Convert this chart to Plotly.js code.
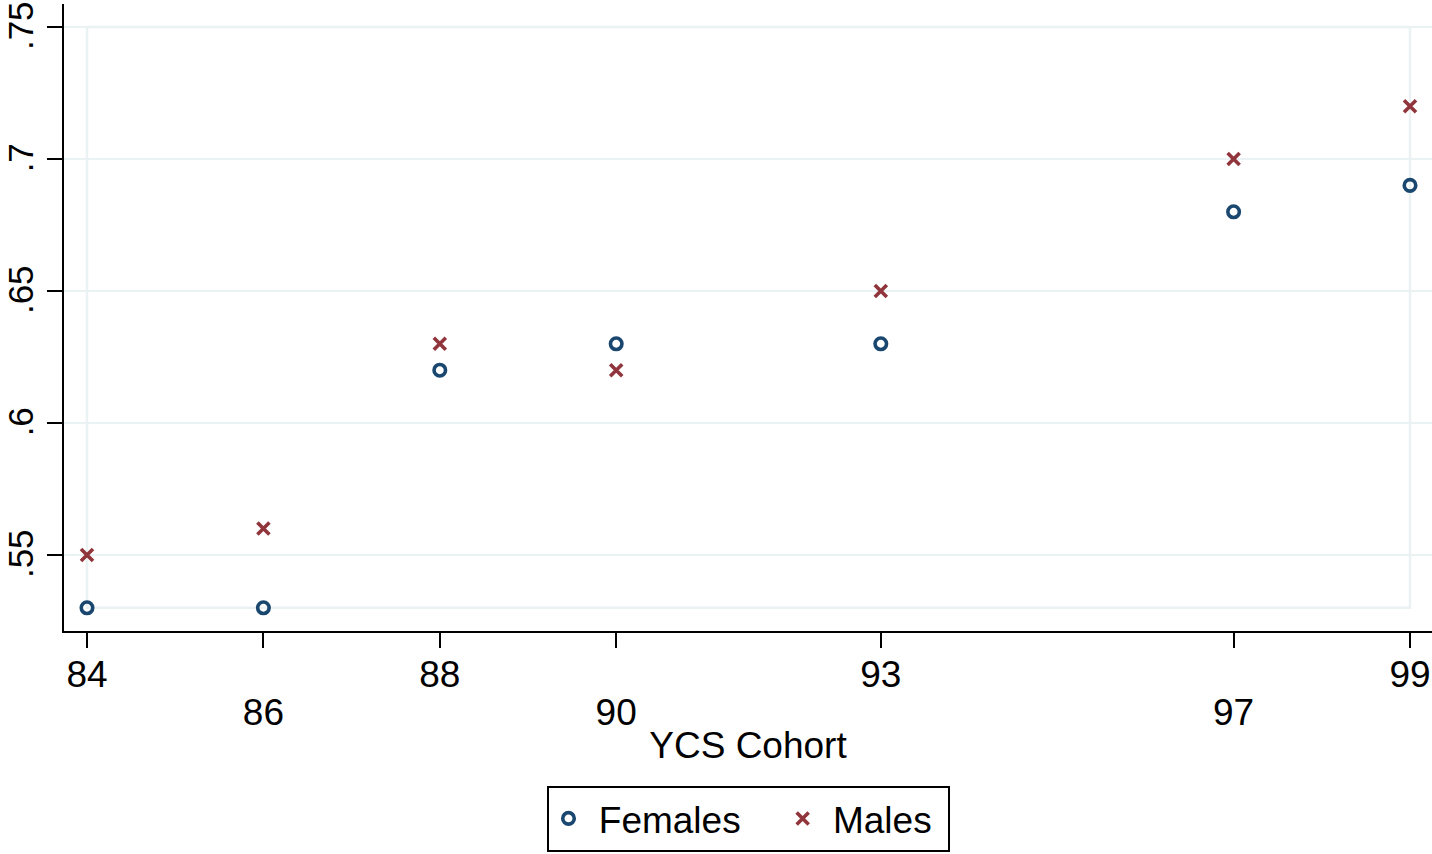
<!DOCTYPE html>
<html>
<head>
<meta charset="utf-8">
<script src="https://cdn.plot.ly/plotly-3.0.1.min.js"></script>
<style>html,body{margin:0;padding:0;background:#fff;}#chart{width:1432px;height:854px;}</style>
</head>
<body>
<div id="chart"></div>
<script>
const cohorts = [84, 86, 88, 90, 93, 97, 99];
const females = [0.53, 0.53, 0.62, 0.63, 0.63, 0.68, 0.69];
const males = [0.55, 0.56, 0.63, 0.62, 0.65, 0.70, 0.72];
const yTickVals = [0.55, 0.6, 0.65, 0.7, 0.75];
const yTickText = ['.55', '.6', '.65', '.7', '.75'];
const xRow1 = ['84', '88', '93', '99'];
const xRow2 = ['86', '90', '97'];
const seriesNames = ['Females', 'Males'];

const FONT = 'Liberation Sans, Arial, sans-serif';
const FS = 37;
const blue = '#1a476f';
const red = '#90353b';
const grid = '#eaf2f3';
const NB = '\u00a0';

const xr = [83.7392, 99.2494];
const yr = [0.52121, 0.75871];

const traces = [
  {x: cohorts, y: females, type: 'scatter', mode: 'markers',
   name: NB + seriesNames[0] + NB.repeat(3) + '\u2006',
   marker: {symbol: 'circle-open', size: 11.5, color: blue, line: {width: 3.6, color: blue}}},
  {x: cohorts, y: males, type: 'scatter', mode: 'markers',
   name: NB + seriesNames[1] + NB,
   marker: {symbol: 'x-thin-open', size: 12, color: red, line: {width: 3.6, color: red}}},
  {x: [cohorts[0]], y: [females[0]], xaxis: 'x2', type: 'scatter', mode: 'markers',
   showlegend: false, hoverinfo: 'skip', marker: {opacity: 0}}
];

const row2Vals = cohorts.filter(c => xRow2.includes(String(c)));

const layout = {
  width: 1432, height: 854,
  margin: {l: 64, r: 0, t: 4, b: 223},
  paper_bgcolor: '#fff', plot_bgcolor: '#fff',
  font: {family: FONT, size: FS, color: '#000'},
  showlegend: true,
  xaxis: {
    range: xr, tickmode: 'array', tickvals: cohorts,
    ticktext: cohorts.map(c => xRow1.includes(String(c)) ? String(c) : ''),
    ticks: 'outside', ticklen: 15, tickwidth: 2, tickcolor: '#000',
    showline: true, linewidth: 2, linecolor: '#000',
    showgrid: false, zeroline: false,
    tickfont: {size: FS}, ticklabelstandoff: -5,
    title: {text: 'YCS Cohort', font: {size: FS}, standoff: 38}
  },
  xaxis2: {
    range: xr, overlaying: 'x', anchor: 'y', side: 'bottom',
    tickmode: 'array', tickvals: row2Vals, ticktext: row2Vals.map(String),
    ticks: '', showline: false, showgrid: false, zeroline: false,
    tickfont: {size: FS}, ticklabelstandoff: 56
  },
  yaxis: {
    range: yr, tickmode: 'array', tickvals: yTickVals, ticktext: yTickText,
    ticks: 'outside', ticklen: 15, tickwidth: 2, tickcolor: '#000',
    showline: true, linewidth: 2, linecolor: '#000',
    showgrid: true, gridcolor: grid, gridwidth: 2.5, zeroline: false,
    tickangle: -90, tickfont: {size: 35}, ticklabeloverflow: 'allow',
    ticklabelshift: 4
  },
  shapes: [{
    type: 'rect', xref: 'x', yref: 'y',
    x0: Math.min(...cohorts), x1: Math.max(...cohorts),
    y0: Math.min(...females, ...males), y1: Math.max(...yTickVals),
    line: {color: grid, width: 2.5}, fillcolor: 'rgba(0,0,0,0)', layer: 'below'
  }],
  legend: {
    orientation: 'h', x: 0.5, xanchor: 'center', y: -0.247, yanchor: 'top',
    bordercolor: '#000', borderwidth: 2, bgcolor: '#fff',
    font: {size: FS}, itemwidth: 30
  }
};

Plotly.newPlot('chart', traces, layout, {displayModeBar: false, staticPlot: true});
</script>
</body>
</html>
